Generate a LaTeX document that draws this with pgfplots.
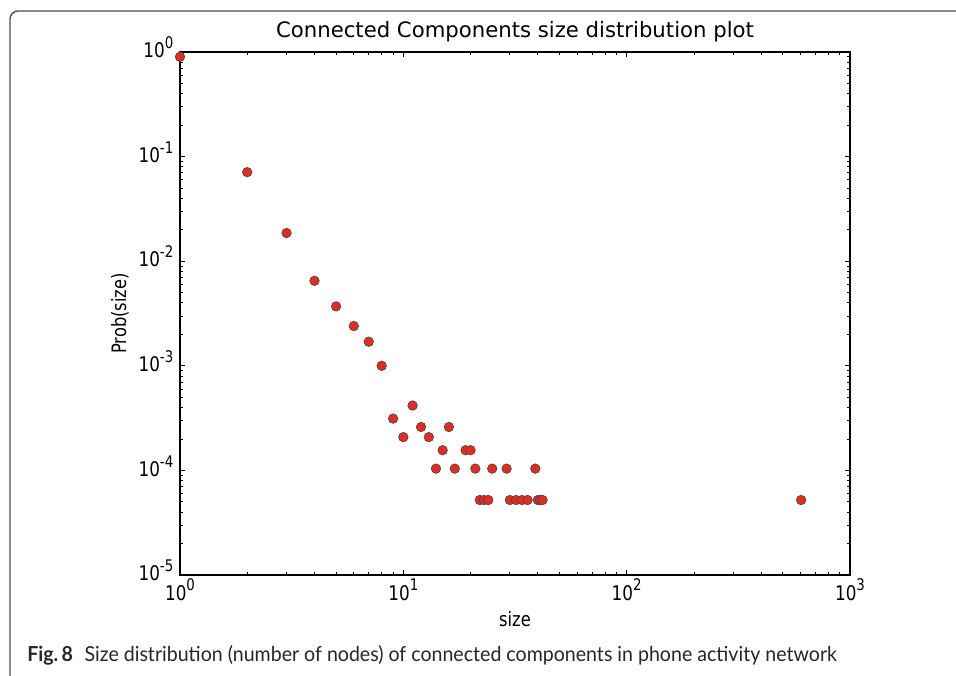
\documentclass[border=0pt]{standalone}
\usepackage{pgfplots}
\pgfplotsset{compat=1.18}
\usepackage{fontspec}
\setmainfont{DejaVu Sans}
\newfontfamily\capfont{Lato}
\definecolor{mkred}{RGB}{222,45,35}
\definecolor{framegray}{RGB}{80,80,80}
\newcommand\sups[1]{\raisebox{0.45em}{\fontsize{10}{11}\selectfont #1}}
\newcommand\tl[1]{\scalebox{1}[1.2]{10\sups{#1}}}
\begin{document}
\begin{tikzpicture}[x=0.75pt,y=0.75pt]
\path[use as bounding box] (0,0) rectangle (956,675);
% outer figure frame (left and top edges)
\draw[framegray,line width=1.1pt,rounded corners=6pt] (10,-5) -- (10,664) -- (970,664);
\begin{axis}[
  at={(135pt,75pt)}, anchor=south west,
  scale only axis, width=502.5pt, height=392.25pt,
  xmode=log, ymode=log,
  xmin=1, xmax=1000, ymin=1e-5, ymax=1,
  xtick={1,10,100,1000},
  xticklabels={\tl{0},\tl{1},\tl{2},\tl{3}},
  minor xtick={2,3,4,5,6,7,8,9,20,30,40,50,60,70,80,90,200,300,400,500,600,700,800,900},
  ytick={1e-5,1e-4,1e-3,1e-2,1e-1,1},
  yticklabels={\tl{-5},\tl{-4},\tl{-3},\tl{-2},\tl{-1},\tl{0}},
  minor ytick={2e-5,3e-5,4e-5,5e-5,6e-5,7e-5,8e-5,9e-5,2e-4,3e-4,4e-4,5e-4,6e-4,7e-4,8e-4,9e-4,2e-3,3e-3,4e-3,5e-3,6e-3,7e-3,8e-3,9e-3,2e-2,3e-2,4e-2,5e-2,6e-2,7e-2,8e-2,9e-2,0.2,0.3,0.4,0.5,0.6,0.7,0.8,0.9},
  tick align=inside,
  major tick length=4pt, minor tick length=2pt,
  every tick/.style={black, line width=0.6pt},
  axis line style={line width=0.9pt},
  ticklabel style={font=\fontsize{12.6}{15}\selectfont},
  xticklabel style={anchor=base, yshift=-18.75pt},
  yticklabel style={anchor=base east, yshift=-0.43em, xshift=-1.5pt},
  title={Connected Components size distribution plot},
  title style={font=\fontsize{15.9}{18}\selectfont, at={(axis description cs:0.5,1.0115)}, anchor=base},
  xlabel={\scalebox{1}[1.22]{size}}, ylabel={\scalebox{1}[1.22]{Prob(size)}},
  label style={font=\fontsize{12.2}{14}\selectfont},
  xlabel style={at={(axis description cs:0.5,-0.0994)}, anchor=base},
  ylabel style={at={(axis description cs:-0.0806,0.5)}, anchor=base},
  clip=false,
]
\addplot[only marks, mark=*, mark size=3.6pt,
  mark options={fill=mkred, draw=black!75, line width=0.4pt}] coordinates {
(1,0.9) (2,0.071) (3,0.0186) (4,0.0065) (5,0.0037) (6,0.0024) (7,0.0017) (8,0.001)
(9,0.000313) (10,0.000208) (11,0.000417) (12,0.00026) (13,0.000208) (14,0.000104)
(15,0.000156) (16,0.00026) (17,0.000104) (19,0.000156) (20,0.000156) (21,0.000104)
(22,5.21e-5) (23,5.21e-5) (24,5.21e-5) (25,0.000104) (29,0.000104)
(30,5.21e-5) (32,5.21e-5) (34,5.21e-5) (36,5.21e-5) (39,0.000104)
(40,5.21e-5) (41,5.21e-5) (42,5.21e-5) (604,5.21e-5)
};
\end{axis}
\node[anchor=base west, inner sep=0pt, text=black!85] at (27,14) {\scalebox{0.947}[1]{\capfont\fontsize{15.5}{18}\selectfont\textbf{Fig.\,8}\hspace{0.6em}Size distribution (number of nodes) of connected components in phone activity network}};
\end{tikzpicture}
\end{document}
